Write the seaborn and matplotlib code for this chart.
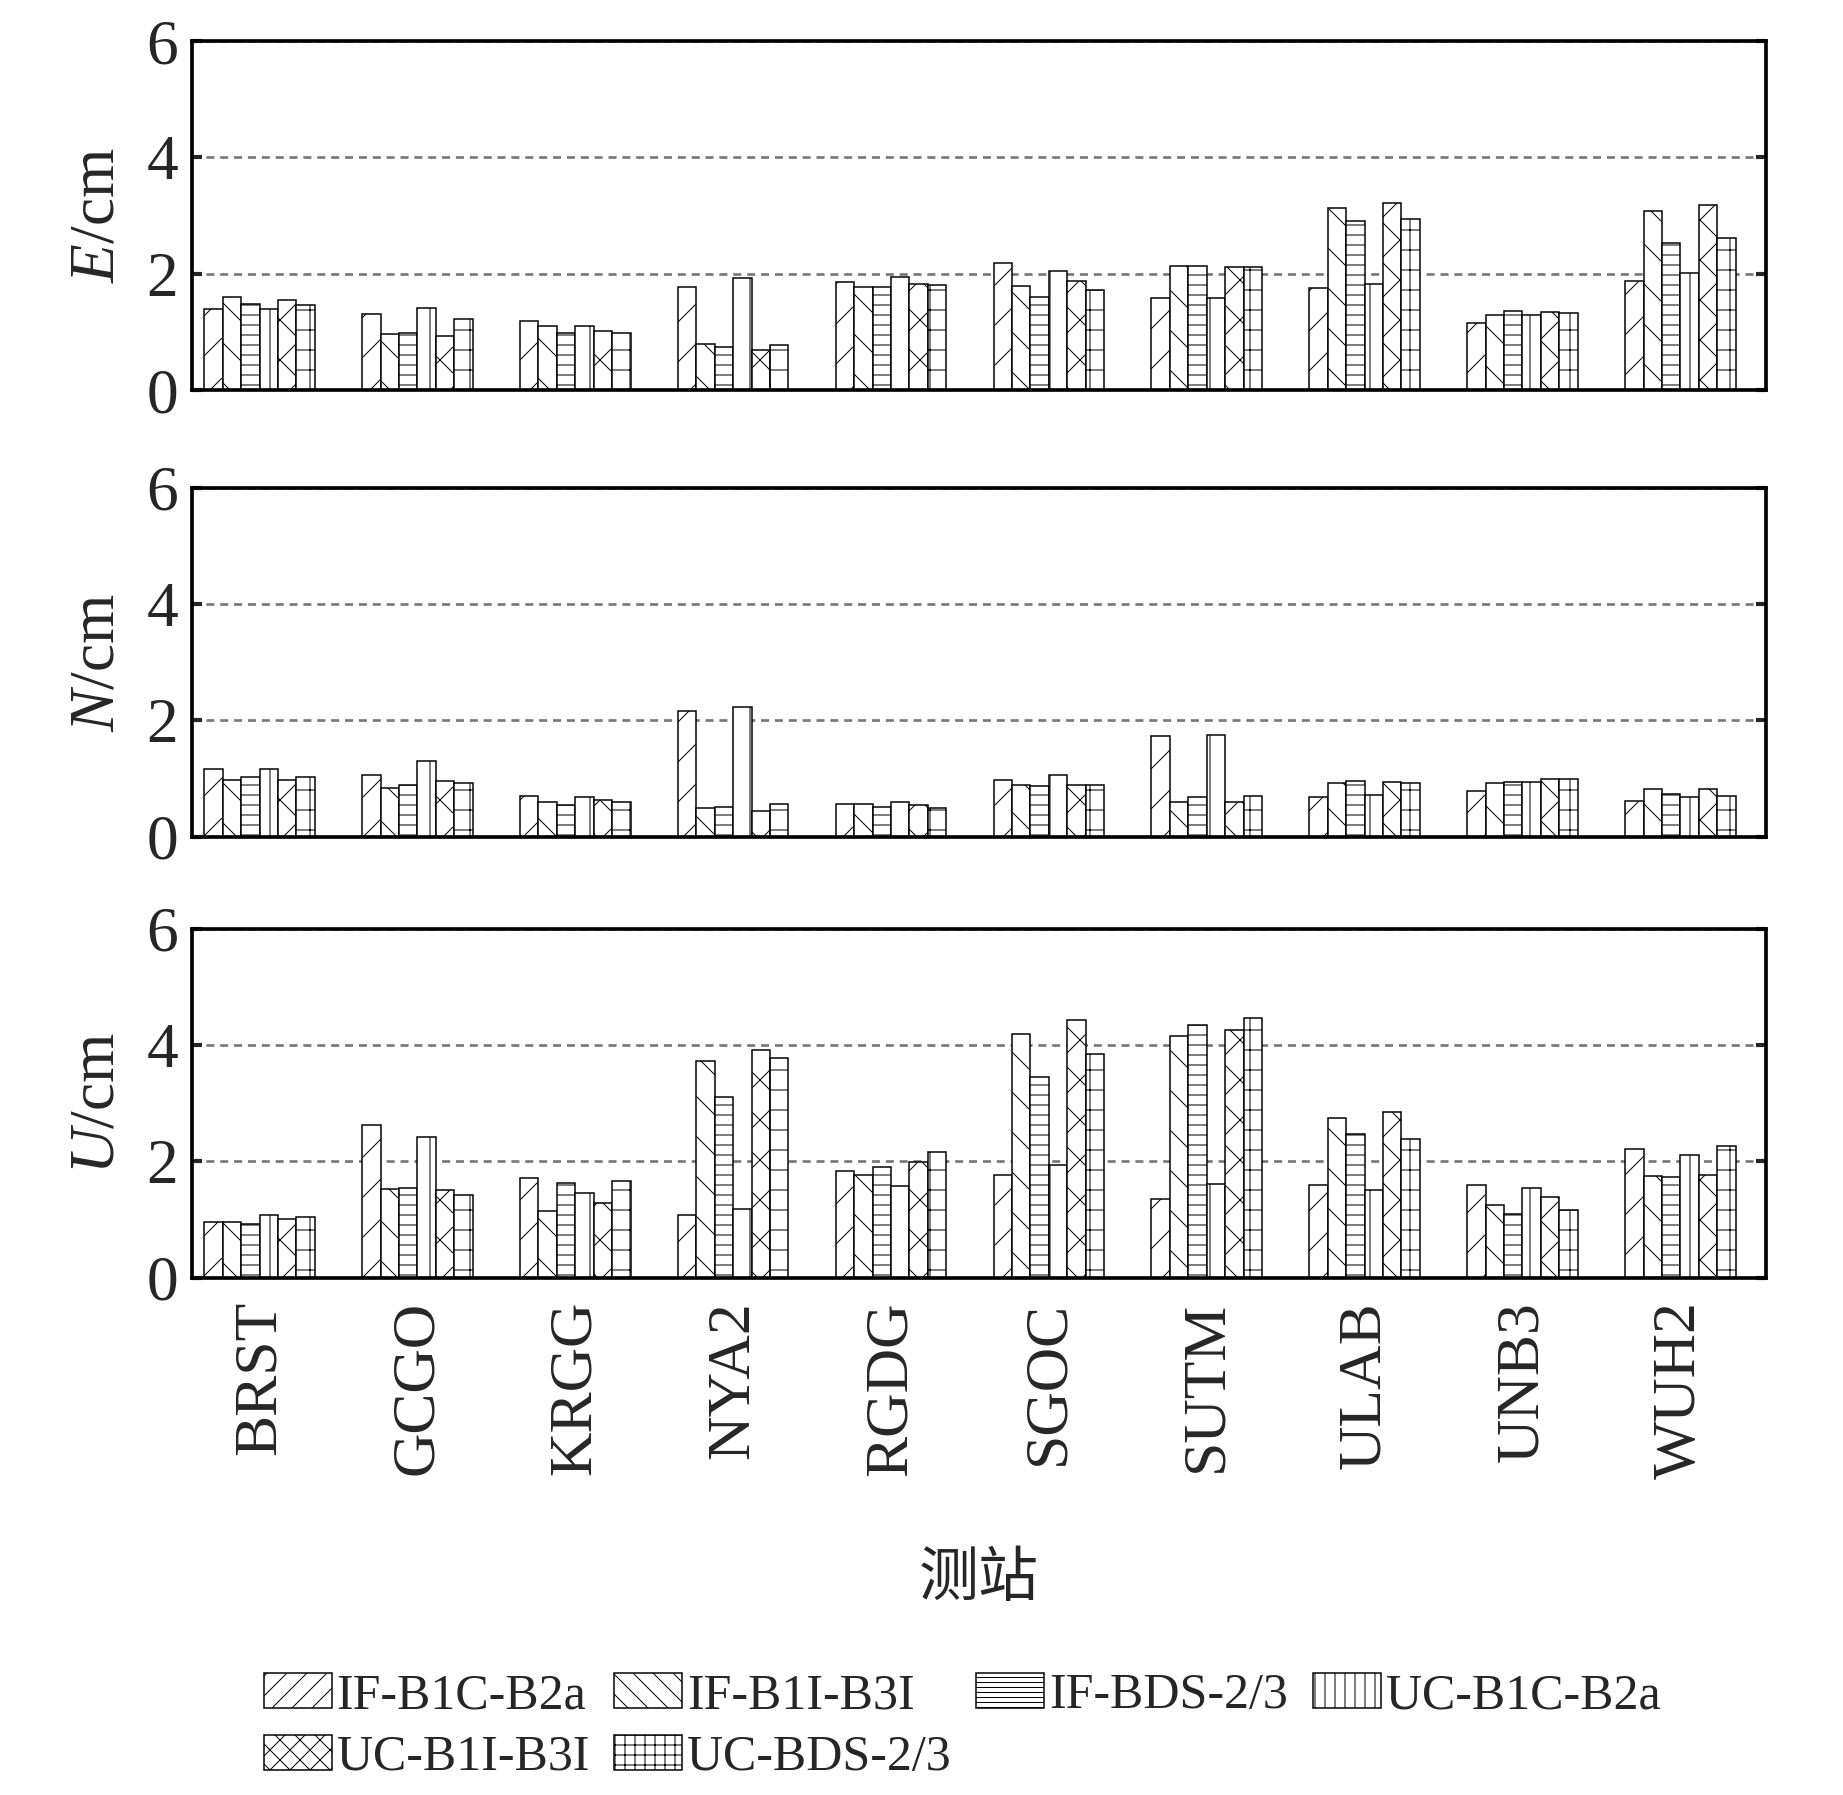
import matplotlib
matplotlib.use("Agg")
import matplotlib.pyplot as plt
from matplotlib.patches import Patch
import pandas as pd
import seaborn as sns

stations = ["BRST", "GCGO", "KRGG", "NYA2", "RGDG", "SGOC", "SUTM", "ULAB", "UNB3", "WUH2"]
schemes = ["IF-B1C-B2a", "IF-B1I-B3I", "IF-BDS-2/3", "UC-B1C-B2a", "UC-B1I-B3I", "UC-BDS-2/3"]
hatches = ["/", "\\", "--", "|", "x", "+"]

# RMS per station (rows) and scheme (columns), cm
e_rms = [
    [1.39, 1.60, 1.49, 1.39, 1.55, 1.47],
    [1.31, 0.96, 0.98, 1.42, 0.94, 1.22],
    [1.19, 1.10, 0.98, 1.10, 1.01, 0.98],
    [1.77, 0.79, 0.75, 1.93, 0.69, 0.77],
    [1.86, 1.78, 1.77, 1.94, 1.82, 1.81],
    [2.18, 1.79, 1.60, 2.05, 1.88, 1.73],
    [1.58, 2.13, 2.14, 1.58, 2.12, 2.12],
    [1.75, 3.14, 2.90, 1.82, 3.21, 2.95],
    [1.15, 1.30, 1.37, 1.30, 1.34, 1.33],
    [1.88, 3.08, 2.53, 2.01, 3.18, 2.61],
]
n_rms = [
    [1.17, 0.98, 1.03, 1.16, 0.97, 1.03],
    [1.07, 0.84, 0.89, 1.30, 0.96, 0.93],
    [0.70, 0.60, 0.54, 0.68, 0.64, 0.59],
    [2.17, 0.49, 0.51, 2.23, 0.44, 0.57],
    [0.57, 0.56, 0.52, 0.59, 0.54, 0.50],
    [0.98, 0.89, 0.87, 1.07, 0.89, 0.89],
    [1.74, 0.59, 0.69, 1.75, 0.60, 0.70],
    [0.69, 0.93, 0.96, 0.72, 0.94, 0.92],
    [0.79, 0.92, 0.94, 0.94, 0.99, 0.99],
    [0.61, 0.83, 0.74, 0.69, 0.83, 0.70],
]
u_rms = [
    [0.96, 0.96, 0.93, 1.08, 1.01, 1.05],
    [2.63, 1.52, 1.54, 2.41, 1.51, 1.42],
    [1.71, 1.14, 1.63, 1.45, 1.29, 1.67],
    [1.07, 3.72, 3.10, 1.18, 3.91, 3.77],
    [1.83, 1.76, 1.91, 1.57, 1.98, 2.16],
    [1.76, 4.19, 3.45, 1.93, 4.43, 3.84],
    [1.36, 4.16, 4.35, 1.61, 4.25, 4.46],
    [1.59, 2.75, 2.47, 1.51, 2.84, 2.38],
    [1.59, 1.25, 1.09, 1.54, 1.38, 1.17],
    [2.22, 1.75, 1.73, 2.11, 1.76, 2.26],
]
components = ["E", "N", "U"]

sns.set_style("white")
plt.rcParams["font.family"] = ["Liberation Serif", "Noto Sans CJK SC"]
plt.rcParams["mathtext.fontset"] = "custom"
plt.rcParams["mathtext.rm"] = "Liberation Serif"
plt.rcParams["mathtext.it"] = "Liberation Serif:italic"
plt.rcParams["hatch.linewidth"] = 0.6

DPI = 120
fig, axes = plt.subplots(3, 1, figsize=(1843 / DPI, 1795 / DPI), dpi=DPI)
bottoms = [0.7826, 0.5338, 0.2882]

for i, (ax, comp, vals) in enumerate(zip(axes, components, [e_rms, n_rms, u_rms])):
    df = pd.DataFrame(vals, index=stations, columns=schemes)
    df = df.reset_index(names="station").melt(id_vars="station", var_name="scheme", value_name="rms")
    sns.barplot(data=df, x="station", y="rms", hue="scheme", order=stations, hue_order=schemes,
                palette={s: "white" for s in schemes}, saturation=1, errorbar=None,
                width=0.7, edgecolor="black", linewidth=0.9, legend=False, ax=ax)
    for cont, h in zip(ax.containers, hatches):
        for bar in cont:
            bar.set_hatch(h)

    ax.set_position([0.104, bottoms[i], 0.854, 0.1945])
    ax.set_xlim(-0.43, 9.54)
    ax.set_ylim(0, 6)
    ax.set_yticks([0, 2, 4, 6])
    ax.yaxis.grid(True, linestyle=(0, (3, 2.2)), color="#777777", linewidth=1.6)
    ax.set_axisbelow(True)
    for sp in ax.spines.values():
        sp.set_linewidth(2.2)
        sp.set_color("black")
    ax.tick_params(axis="y", direction="in", length=6, width=2.5, left=True, right=True,
                   labelsize=38, pad=8)
    ax.tick_params(axis="x", length=0, labelsize=37, labelrotation=90, pad=14)
    ax.set_ylabel(rf"$\mathit{{{comp}}}$/cm", fontsize=38)
    ax.yaxis.set_label_coords(-0.041, 0.5)
    if i < 2:
        ax.tick_params(axis="x", labelbottom=False)
        ax.set_xlabel("")
    else:
        ax.set_xlabel("测站", fontsize=36, family=["Noto Sans CJK SC"])
        ax.xaxis.set_label_coords(0.5, -0.772)

handles = [Patch(facecolor="white", edgecolor="black", linewidth=0.9, hatch=h * 2, label=s)
           for h, s in zip(hatches, schemes)]
# legend fills column by column: reorder so rows read left to right
order = [0, 4, 1, 5, 2, 3]
fig.legend(handles=[handles[k] for k in order], loc="center", bbox_to_anchor=(0.522, 0.038),
           ncol=4, frameon=False, fontsize=30, handlelength=1.36, handleheight=0.7,
           handletextpad=0.1, columnspacing=0.5, labelspacing=0.3, borderpad=0)

fig.savefig("out.png", dpi=DPI)
